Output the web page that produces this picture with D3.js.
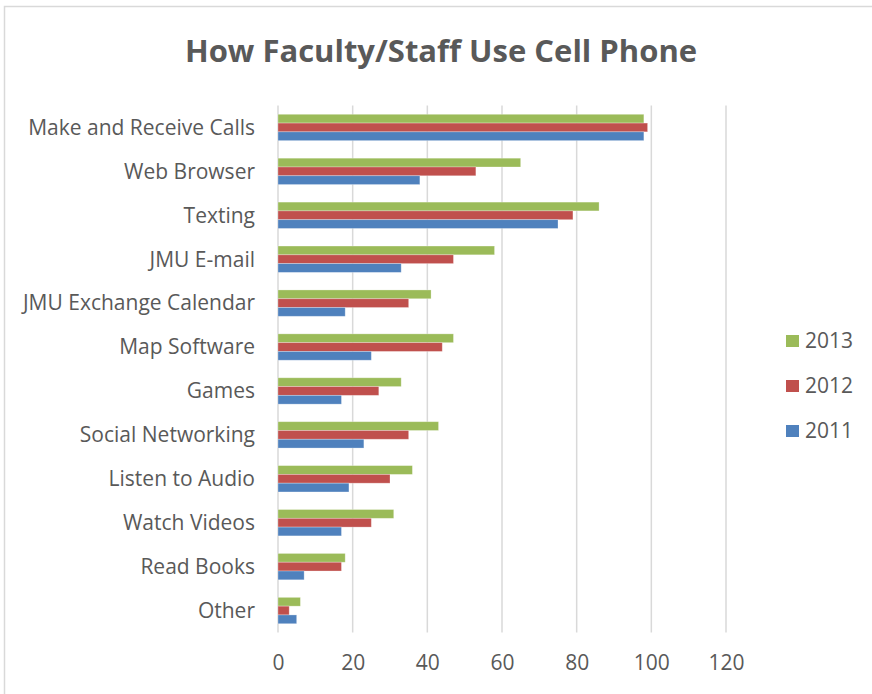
<!DOCTYPE html>
<html>
<head>
<meta charset="utf-8">
<script src="https://cdn.jsdelivr.net/npm/d3@7"></script>
<style>
  html, body { margin: 0; padding: 0; background: #fff; }
  svg { display: block; }
  text { font-family: "Open Sans", "Noto Sans", sans-serif; fill: #595959; }
</style>
</head>
<body>
<script>
// Survey categories, top to bottom
const categories = [
  "Make and Receive Calls", "Web Browser", "Texting", "JMU E-mail",
  "JMU Exchange Calendar", "Map Software", "Games", "Social Networking",
  "Listen to Audio", "Watch Videos", "Read Books", "Other"
];
// Percent of respondents per year
const values2013 = [98, 65, 86, 58, 41, 47, 33, 43, 36, 31, 18, 6];
const values2012 = [99, 53, 79, 47, 35, 44, 27, 35, 30, 25, 17, 3];
const values2011 = [98, 38, 75, 33, 18, 25, 17, 23, 19, 17, 7, 5];
const years = ["2013", "2012", "2011"];
const yearColors = ["#9BBB59", "#C0504D", "#4F81BD"];
const xTicks = [0, 20, 40, 60, 80, 100, 120];

const series = [values2013, values2012, values2011];

const W = 872, H = 694;
const svg = d3.select("body").append("svg").attr("width", W).attr("height", H);

// chart frame
svg.append("rect")
  .attr("x", 4.5).attr("y", 6.5)
  .attr("width", W + 10).attr("height", H + 10)
  .attr("fill", "none").attr("stroke", "#d9d9d9").attr("stroke-width", 1.5);

// title
svg.append("text")
  .attr("x", 441).attr("y", 50)
  .attr("text-anchor", "middle").attr("dominant-baseline", "central")
  .style("font-size", "31px").style("font-weight", "bold")
  .text("How Faculty/Staff Use Cell Phone");

const x = d3.scaleLinear().domain([0, 120]).range([278, 726]);
const y = d3.scaleBand().domain(categories).range([105.5, 632.5]).padding(0);
const groupH = y.bandwidth() * 0.6;
const inner = d3.scaleBand().domain(years).range([0, groupH]).padding(0);
const groupOff = (y.bandwidth() - groupH) / 2;

// vertical gridlines
svg.append("g").selectAll("line").data(xTicks).join("line")
  .attr("x1", d => x(d)).attr("x2", d => x(d))
  .attr("y1", 105.5).attr("y2", 632.5)
  .attr("stroke", "#d9d9d9").attr("stroke-width", 1.5);

// bars
const groups = svg.append("g").selectAll("g").data(categories).join("g")
  .attr("transform", c => `translate(0,${y(c) + groupOff})`);

groups.selectAll("rect")
  .data((c, i) => years.map((yr, k) => ({ yr, k, v: series[k][i] })))
  .join("rect")
  .attr("x", x(0))
  .attr("y", d => inner(d.yr))
  .attr("width", d => x(d.v) - x(0))
  .attr("height", inner.bandwidth())
  .attr("fill", d => yearColors[d.k])
  .attr("stroke", "rgba(255,255,255,0.35)")
  .attr("stroke-width", 0.8);

// category labels
const yAxis = d3.axisLeft(y).tickSize(0).tickPadding(0);
const ya = svg.append("g").attr("transform", "translate(255,0)").call(yAxis);
ya.select(".domain").remove();
ya.selectAll("text")
  .style("font-size", "21px")
  .attr("fill", "#595959")
  .attr("dy", "0.35em");

// value axis labels
const xAxis = d3.axisBottom(x).tickValues(xTicks).tickSize(0).tickPadding(0);
const xa = svg.append("g").attr("transform", "translate(0,663)").call(xAxis);
xa.select(".domain").remove();
xa.selectAll("text")
  .style("font-size", "21px")
  .attr("fill", "#595959")
  .attr("y", 0)
  .attr("dy", "0.35em");

// legend
const legend = svg.append("g").selectAll("g").data(years).join("g")
  .attr("transform", (d, i) => `translate(786,${341 + i * 45})`);
legend.append("rect")
  .attr("x", 0).attr("y", -6).attr("width", 13).attr("height", 12)
  .attr("fill", (d, i) => yearColors[i]);
legend.append("text")
  .attr("x", 19).attr("y", 0).attr("dy", "0.35em")
  .style("font-size", "21px")
  .text(d => d);
</script>
</body>
</html>
